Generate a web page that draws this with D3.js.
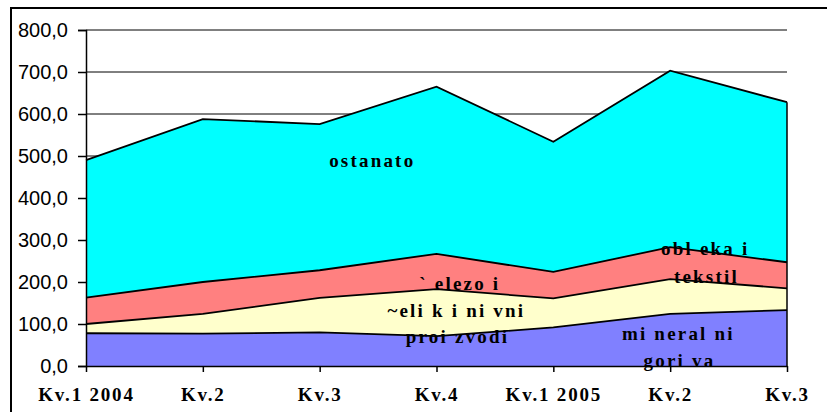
<!DOCTYPE html>
<html>
<head>
<meta charset="utf-8">
<script src="https://cdn.jsdelivr.net/npm/d3@7"></script>
<style>
  body { margin: 0; background: #fff; }
  svg { display: block; }
</style>
</head>
<body>
<div id="main"></div>
<script>
// quarters on the x axis
const categories = ['Kv.1 2004', 'Kv.2', 'Kv.3', 'Kv.4', 'Kv.1 2005', 'Kv.2', 'Kv.3'];

// series values (stacked from bottom up)
const mineralni = [78, 77, 80, 71, 92, 124, 133];
const celik = [22, 47, 82, 112, 69, 83, 52];
const obleka = [63, 76, 66, 84, 63, 76, 62];
const ostanato = [327, 388, 348, 398, 310, 420, 381];

const seriesNames = ['mineralni', 'celik', 'obleka', 'ostanato'];
const seriesColors = ['#8080ff', '#ffffcc', '#ff8080', '#00ffff'];
const yTicks = [0, 100, 200, 300, 400, 500, 600, 700, 800];

// in-chart labels: [text, category position, value]
const labelText = ['ostanato', '` elezo i', '~eli k i ni vni', 'proi zvodi', 'obl eka i', 'tekstil', 'mi neral ni', 'gori va'];
const labelPos = [2.45, 3.2, 3.17, 3.18, 5.3, 5.31, 5.07, 5.08];
const labelVal = [474, 181, 117, 55, 264, 198, 62, -2];

const width = 827;
const height = 412;
const margin = { top: 30, bottom: 46, left: 86, right: 40 };

const svg = d3.select('#main')
  .append('svg')
  .attr('width', width)
  .attr('height', height);

// outer chart frame
svg.append('rect')
  .attr('x', 11).attr('y', 8)
  .attr('width', width).attr('height', height)
  .attr('fill', 'none')
  .attr('stroke', 'black')
  .attr('stroke-width', 2);

const x = d3.scalePoint()
  .domain(d3.range(categories.length))
  .range([margin.left, width - margin.right]);

const y = d3.scaleLinear()
  .domain([0, 800])
  .range([height - margin.bottom, margin.top]);

// gridlines
svg.append('g')
  .selectAll('line')
  .data(yTicks.slice(1))
  .join('line')
    .attr('x1', margin.left)
    .attr('x2', width - margin.right)
    .attr('y1', d => y(d))
    .attr('y2', d => y(d))
    .attr('stroke', 'black')
    .attr('stroke-width', 1);

const table = categories.map((c, i) => ({
  i: i,
  mineralni: mineralni[i],
  celik: celik[i],
  obleka: obleka[i],
  ostanato: ostanato[i]
}));

const stacked = d3.stack().keys(seriesNames)(table);

const area = d3.area()
  .x(d => x(d.data.i))
  .y0(d => y(d[0]))
  .y1(d => y(d[1]));

const line = d3.line()
  .x(d => x(d.data.i))
  .y(d => y(d[1]));

svg.append('g')
  .selectAll('path')
  .data(stacked)
  .join('path')
    .attr('d', area)
    .attr('fill', (d, i) => seriesColors[i]);

svg.append('g')
  .selectAll('path')
  .data(stacked)
  .join('path')
    .attr('d', line)
    .attr('fill', 'none')
    .attr('stroke', 'black')
    .attr('stroke-width', 1.8);

// right edge of the areas
const last = stacked[stacked.length - 1][categories.length - 1];
svg.append('line')
  .attr('x1', x(categories.length - 1))
  .attr('x2', x(categories.length - 1))
  .attr('y1', y(0))
  .attr('y2', y(last[1]))
  .attr('stroke', 'black')
  .attr('stroke-width', 1.5);

// series labels inside the chart
svg.append('g')
  .selectAll('text')
  .data(labelText)
  .join('text')
    .attr('x', (d, i) => x(0) + labelPos[i] * x.step())
    .attr('y', (d, i) => y(labelVal[i]))
    .attr('text-anchor', 'middle')
    .attr('font-family', '"Liberation Serif", serif')
    .attr('font-weight', 'bold')
    .attr('font-size', '19px')
    .attr('letter-spacing', '2.2px')
    .text(d => d);

function yAxis(g) {
  g.attr('transform', `translate(${margin.left}, 0)`)
    .call(d3.axisLeft(y).tickValues(yTicks).tickSize(8).tickPadding(10)
      .tickFormat(d => d3.format('.1f')(d).replace('.', ',')))
    .call(g => g.selectAll('path, line').attr('stroke', 'black').attr('stroke-width', 1.5))
    .selectAll('text')
      .attr('font-family', '"Liberation Sans", Arial, sans-serif')
      .attr('font-size', '20px')
      .attr('fill', 'black');
}

function xAxis(g) {
  g.attr('transform', `translate(0, ${height - margin.bottom})`)
    .call(d3.axisBottom(x).tickSize(6).tickSizeOuter(0).tickFormat(i => categories[i]))
    .call(g => g.selectAll('path, line').attr('stroke', 'black').attr('stroke-width', 1.5))
    .selectAll('text')
      .attr('y', 22)
      .attr('font-family', '"Liberation Serif", serif')
      .attr('font-weight', 'bold')
      .attr('font-size', '19px')
      .attr('letter-spacing', '1.8px')
      .attr('fill', 'black');
}

svg.append('g').call(xAxis);
svg.append('g').call(yAxis);
</script>
</body>
</html>
